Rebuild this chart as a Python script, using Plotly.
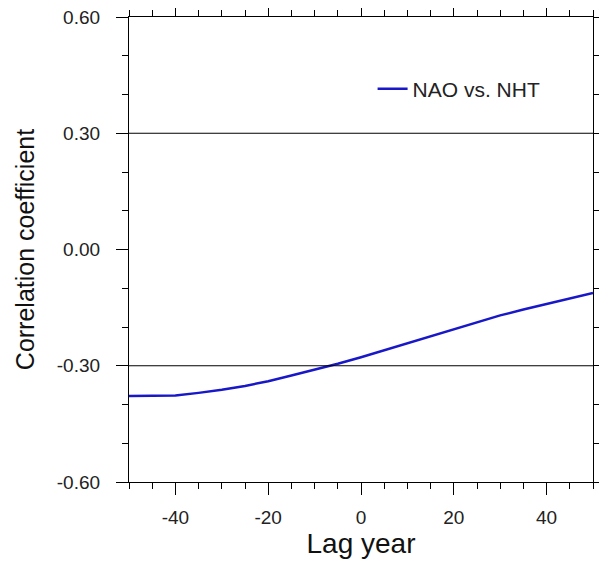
import plotly.graph_objects as go

lag_years = [-50, -45, -40, -35, -30, -25, -20, -15, -10, -5, 0, 5, 10, 15, 20, 25, 30, 35, 40, 45, 50]
nao_vs_nht = [-0.378, -0.378, -0.377, -0.370, -0.362, -0.352, -0.340, -0.325, -0.311, -0.295,
              -0.278, -0.260, -0.243, -0.225, -0.205, -0.188, -0.170, -0.155, -0.141, -0.127, -0.112]
ref_levels = [0.3, -0.3]
series_name = "NAO vs. NHT"
x_tick_vals = [-40, -20, 0, 20, 40]
x_tick_text = ["-40", "-20", "0", "20", "40"]
y_tick_vals = [-0.6, -0.3, 0.0, 0.3, 0.6]
y_tick_text = ["-0.60", "-0.30", "0.00", "0.30", "0.60"]

FONT = "Liberation Sans, Arial, Helvetica, sans-serif"

fig = go.Figure()
fig.add_trace(go.Scatter(x=lag_years, y=nao_vs_nht, mode="lines", name=series_name,
                         line=dict(color="#1818c8", width=2.5)))

for lv in ref_levels:
    fig.add_shape(type="line", xref="x", yref="y", x0=lag_years[0], x1=lag_years[-1],
                  y0=lv, y1=lv, line=dict(color="black", width=1.2))

axis_common = dict(showline=True, linecolor="black", linewidth=1.2, mirror="ticks",
                   ticks="outside", tickcolor="black", tickwidth=1.2, showgrid=False,
                   zeroline=False, automargin=False, ticklabeloverflow="allow",
                   tickfont=dict(family=FONT, size=19, color="#222"))

fig.update_xaxes(range=[-50, 50], tickmode="array", tickvals=x_tick_vals, ticktext=x_tick_text, ticklen=12,
                 minor=dict(tickmode="linear", tick0=0, dtick=5, ticklen=6, ticks="outside",
                            tickcolor="black", showgrid=False),
                 title=dict(text="Lag year", font=dict(family=FONT, size=28, color="#111"), standoff=6),
                 ticklabelstandoff=6, **axis_common)
fig.update_yaxes(range=[-0.6, 0.6], tickmode="array", tickvals=y_tick_vals, ticktext=y_tick_text, ticklen=12,
                 minor=dict(tickmode="linear", tick0=0, dtick=0.1, ticklen=6, ticks="outside",
                            tickcolor="black", showgrid=False),
                 title=dict(text="Correlation coefficient", font=dict(family=FONT, size=25, color="#111"), standoff=15),
                 ticklabelstandoff=12, **axis_common)

# page body has an 8px margin, so the figure is sized/offset to compensate
fig.update_layout(width=599, height=555, margin=dict(l=121, r=14, t=9, b=81),
                  plot_bgcolor="white", paper_bgcolor="white",
                  showlegend=True,
                  legend=dict(x=0.525, y=0.845, xanchor="left", yanchor="middle",
                              bgcolor="rgba(0,0,0,0)", font=dict(family=FONT, size=21, color="#222")))

fig.write_html("out.html")
